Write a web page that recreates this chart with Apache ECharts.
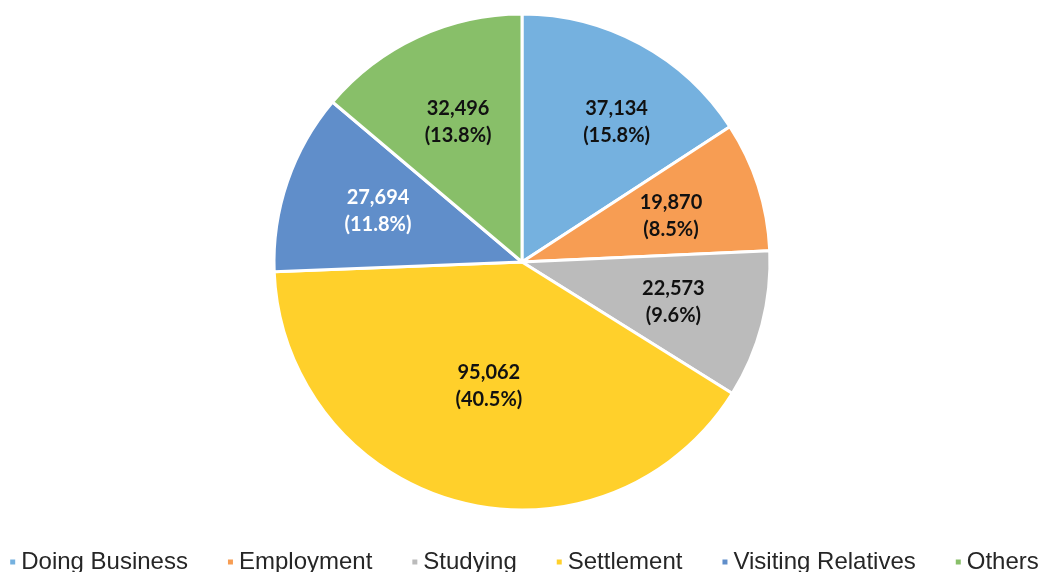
<!DOCTYPE html>
<html>
<head>
<meta charset="utf-8">
<script src="https://cdn.jsdelivr.net/npm/echarts@6/dist/echarts.min.js"></script>
<style>
  html, body { margin: 0; padding: 0; background: #fff; }
  #chart { width: 1047px; height: 572px; }
</style>
</head>
<body>
<div id="chart"></div>
<script>
// purposes of visit
var categories = ['Doing Business', 'Employment', 'Studying', 'Settlement', 'Visiting Relatives', 'Others'];
var values = [37134, 19870, 22573, 95062, 27694, 32496];
var colors = ['#75B1DF', '#F79D53', '#BBBBBB', '#FFD02B', '#608ECA', '#88BF69'];
var labelColors = ['#111', '#111', '#111', '#111', '#fff', '#111'];
// small nudges so labels sit where the original put them
var labelOffsets = [[20, -2], [0, 2], [0, 0], [7, -27], [4, 0], [2, 2]];

var myChart = echarts.init(document.getElementById('chart'));

function fmt(p) {
    return p.value.toLocaleString('en-US') + '\n(' + p.percent.toFixed(1) + '%)';
}

var pieData = categories.map(function (name, i) {
    return { name: name, value: values[i], itemStyle: { color: colors[i] } };
});
// transparent copy only used to place the labels a bit further out
var labelData = categories.map(function (name, i) {
    return {
        name: name, value: values[i],
        itemStyle: { color: 'rgba(0,0,0,0)' },
        label: { color: labelColors[i], offset: labelOffsets[i] }
    };
});

var option = {
    animation: false,
    legend: {
        bottom: -2,
        left: 'center',
        padding: 0,
        icon: 'rect',
        itemWidth: 7,
        itemHeight: 7,
        itemGap: 38,
        textStyle: { fontFamily: 'Liberation Sans', fontSize: 24, color: '#262626' },
        data: categories
    },
    series: [
        {
            name: 'visits',
            type: 'pie',
            center: [522, 262],
            radius: 248,
            startAngle: 90,
            clockwise: true,
            itemStyle: { borderColor: '#fff', borderWidth: 3 },
            label: { show: false },
            labelLine: { show: false },
            emphasis: { disabled: true },
            data: pieData
        },
        {
            name: 'labels',
            type: 'pie',
            center: [522, 262],
            radius: [0, 307],
            startAngle: 90,
            clockwise: true,
            silent: true,
            label: {
                show: true,
                position: 'inside',
                formatter: fmt,
                fontFamily: 'Lato',
                fontWeight: 'bold',
                fontSize: 20,
                lineHeight: 27
            },
            labelLine: { show: false },
            emphasis: { disabled: true },
            data: labelData
        }
    ]
};
myChart.setOption(option);
</script>
</body>
</html>
